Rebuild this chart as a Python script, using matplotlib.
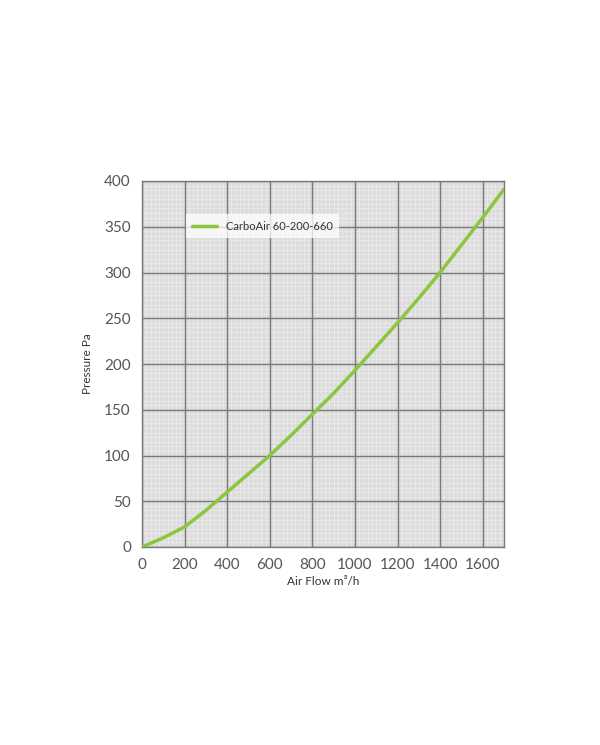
import matplotlib
matplotlib.use("Agg")
import matplotlib.pyplot as plt
from matplotlib.ticker import MultipleLocator
import numpy as np

flow = [0, 100, 200, 300, 400, 500, 600, 700, 800, 900, 1000, 1100, 1200, 1300, 1400, 1500, 1600, 1700]
pressure = [0, 10, 22, 40, 60, 80, 100, 122, 145, 168, 193, 219, 245, 272, 300, 330, 360, 391]
series_name = "CarboAir 60-200-660"
x_ticks = [0, 200, 400, 600, 800, 1000, 1200, 1400, 1600]
y_ticks = [0, 50, 100, 150, 200, 250, 300, 350, 400]

plt.rcParams['font.family'] = ['Lato', 'DejaVu Sans']

fig = plt.figure(figsize=(6, 7.45), dpi=100)
ax = fig.add_axes([142/600, 1-547/745, (504-142)/600, (547-181)/745])
ax.set_facecolor('#dcdcdc')

ax.set_xlim(0, 1700)
ax.set_ylim(0, 400)
ax.set_xticks(x_ticks)
ax.set_yticks(y_ticks)
ax.xaxis.set_minor_locator(MultipleLocator(20))
ax.yaxis.set_minor_locator(MultipleLocator(5))
ax.grid(which='minor', color='#ececec', linewidth=0.5)
ax.set_axisbelow(True)

# major grid drawn above the minor grid
ax.vlines(x_ticks, 0, 400, colors='#7a7a7a', linewidth=1.0, zorder=1)
ax.hlines(y_ticks, 0, 1700, colors='#7a7a7a', linewidth=1.0, zorder=1)

ax.plot(flow, pressure, color='#8cc63f', linewidth=2.5, label=series_name,
        solid_capstyle='round', zorder=3)

for s in ax.spines.values():
    s.set_color('#7a7a7a')
    s.set_linewidth(1.0)

ax.tick_params(which='both', length=0, pad=8, labelsize=11, labelcolor='#555555')
ax.set_xlabel('Air Flow m³/h', fontsize=8.5, color='#333333', labelpad=3)
ax.set_ylabel('Pressure Pa', fontsize=8.5, color='#333333', labelpad=8)

leg = ax.legend(loc='upper left', bbox_to_anchor=(0.105, 0.925), frameon=True, fancybox=False,
                fontsize=8, handlelength=2.2, borderpad=0.6, edgecolor='none')
leg.get_frame().set_facecolor('white')
leg.get_frame().set_alpha(0.75)
leg.set_zorder(5)
for t in leg.get_texts():
    t.set_color('#333333')

fig.savefig('out.png', dpi=100, facecolor='white')
